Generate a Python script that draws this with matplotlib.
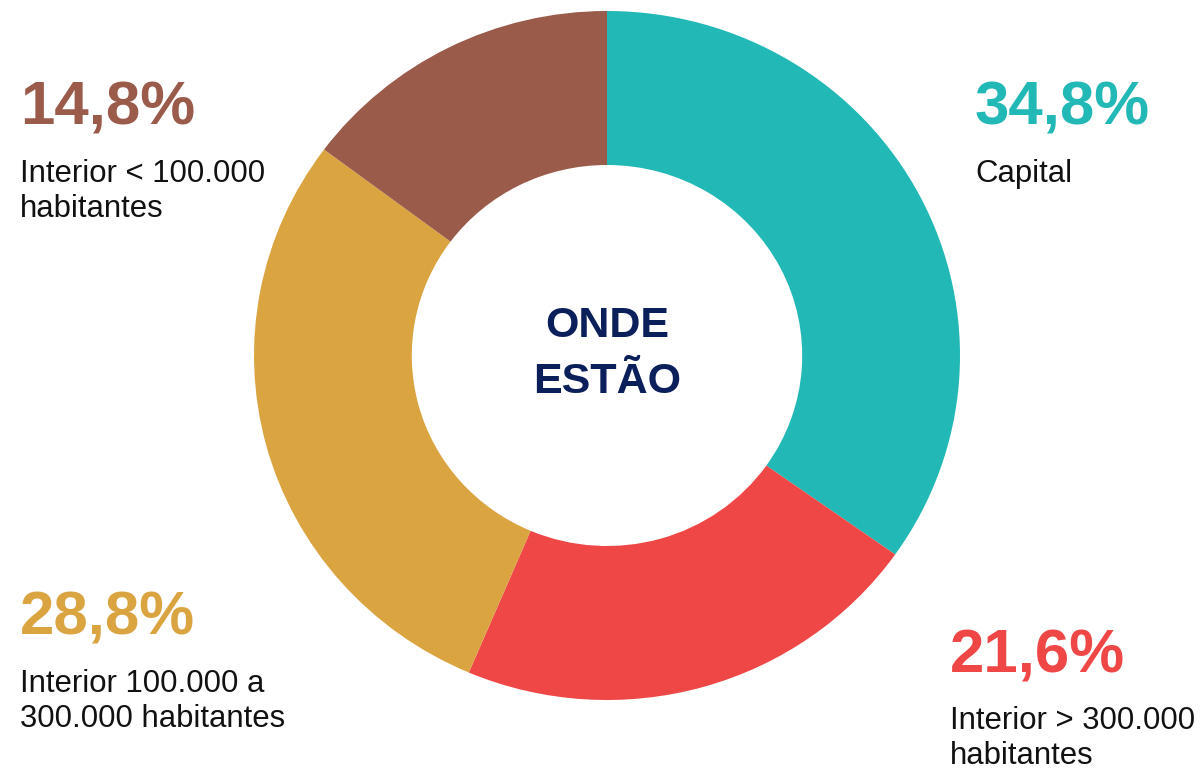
import matplotlib
matplotlib.use('Agg')
import matplotlib.pyplot as plt

plt.rcParams['font.family'] = ['Liberation Sans', 'DejaVu Sans']

# Data (clockwise from the top)
categories = ['Capital', 'Interior > 300.000\nhabitantes',
              'Interior 100.000 a\n300.000 habitantes',
              'Interior < 100.000\nhabitantes']
shares = [34.8, 21.6, 28.8, 14.8]
colors = ['#22B8B5', '#EF4646', '#DAA441', '#9A5B4B']

# label anchor (left x, baseline y of the percentage) in pixels of the 1200x772 image
label_pos = [(975, 125), (950, 672), (20, 635), (20, 125)]

W, H = 1200, 772
fig = plt.figure(figsize=(W / 100, H / 100), dpi=100, facecolor='white')

# donut: center (607, 355.5), outer radius ~353 x 344.5 px
ax = fig.add_axes([(607 - 353) / W, (H - 700) / H, 706 / W, 689 / H])
ax.pie(shares, colors=colors, startangle=90, counterclock=False,
       radius=1.0, wedgeprops=dict(width=0.447, linewidth=0))
ax.set_aspect('auto')
ax.set_xlim(-1, 1)
ax.set_ylim(-1, 1)
ax.axis('off')

navy = '#0B1F5B'
fig.text(607 / W, 1 - 337 / H, 'ONDE', ha='center', va='baseline',
         fontsize=31, fontweight='bold', color=navy)
fig.text(607 / W, 1 - 393 / H, 'ESTÃO', ha='center', va='baseline',
         fontsize=31, fontweight='bold', color=navy)

for cat, val, col, (px, py) in zip(categories, shares, colors, label_pos):
    pct = f"{val:.1f}%".replace('.', ',')
    fig.text(px / W, 1 - py / H, pct, ha='left', va='baseline',
             fontsize=44.5, fontweight='bold', color=col)
    # one text per line so each baseline sits where the reference has it
    for i, line in enumerate(cat.split('\n')):
        fig.text(px / W, 1 - (py + 57 + 35 * i) / H, line, ha='left',
                 va='baseline', fontsize=22.4, color='#111111')

fig.savefig('out.png', dpi=100, facecolor='white')
plt.close(fig)
